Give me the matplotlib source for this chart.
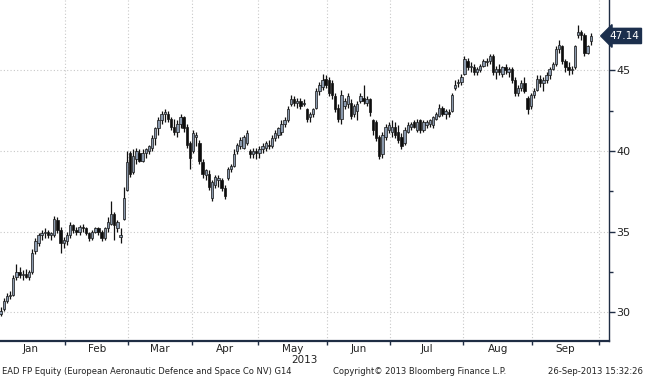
import numpy as np
import matplotlib
matplotlib.use("Agg")
import matplotlib.pyplot as plt
import matplotlib.transforms as mtransforms

# ---------------------------------------------------------------- data
month_names = ["Jan", "Feb", "Mar", "Apr", "May", "Jun", "Jul", "Aug", "Sep"]
month_days = [22, 20, 20, 21, 22, 20, 23, 22, 21]   # trading-day slots per month

opens = [
    29.8, 29.9, 30.2, 30.7, 31.0, 31.1, 32.2, 32.5, 32.3, 32.4, 32.2, 32.5, 33.8, 34.3, 34.8, 34.9, 35.0, 34.8, 34.8, 35.7, 35.1, 34.3,
    34.4, 34.8, 35.4, 35.1, 35.0, 35.3, 35.2, 34.9, 34.6, 35.0, 35.2, 35.0, 34.6, 35.2, 35.5, 36.1, 35.2, 34.7, 35.8, 37.6,
    39.9, 38.7, 39.5, 39.9, 39.4, 39.9, 40.0, 40.2, 40.8, 41.4, 41.9, 42.3, 42.3, 42.0, 41.5, 41.2, 41.7, 42.1, 41.5, 40.5,
    40.0, 40.9, 40.5, 39.3, 38.5, 38.6, 37.1, 37.9, 38.2, 38.2, 37.7, 38.3, 38.9, 39.1, 40.0, 40.3, 40.2, 40.5, 40.0, 39.8, 40.0,
    39.9, 40.1, 40.2, 40.4, 40.3, 40.8, 41.0, 41.2, 41.7, 41.9, 42.9, 43.2, 43.0, 43.1, 42.9, 42.6, 42.1, 42.3, 42.7, 43.7, 44.0, 44.5,
    44.4, 44.2, 43.4, 42.7, 42.0, 42.8, 42.9, 43.0, 42.3, 42.5, 43.1, 43.3, 43.0, 43.2, 41.9, 41.8, 40.9, 39.8, 40.9, 41.3,
    41.2, 41.5, 41.2, 40.9, 40.5, 41.2, 41.5, 41.8, 41.3, 41.9, 41.3, 41.6, 41.7, 41.6, 42.0, 42.2, 42.7, 42.3, 42.4, 42.5, 43.9, 44.2, 44.3,
    44.8, 45.6, 45.2, 45.2, 44.9, 45.0, 45.3, 45.5, 45.6, 45.9, 44.9, 45.1, 44.8, 45.2, 44.9, 45.1, 44.4, 43.6, 43.9, 44.2, 43.3, 42.8,
    43.5, 43.8, 44.5, 44.2, 44.4, 44.7, 45.1, 45.4, 46.3, 46.5, 45.6, 45.2, 45.0, 45.2, 47.2, 47.4, 47.2, 46.1, 46.8,
]
highs = [
    30.1, 30.3, 30.9, 31.2, 31.3, 32.3, 33.0, 32.8, 32.6, 32.7, 32.6, 33.9, 34.6, 34.9, 35.1, 35.2, 35.1, 35.0, 36.0, 35.9, 35.3, 34.7,
    35.0, 35.6, 35.5, 35.3, 35.4, 35.5, 35.3, 35.0, 35.1, 35.3, 35.3, 35.1, 35.3, 35.9, 36.9, 36.2, 35.7, 35.2, 37.8, 40.0,
    40.0, 40.1, 40.2, 40.1, 40.1, 40.2, 40.4, 41.0, 41.5, 42.1, 42.5, 42.6, 42.5, 42.1, 42.0, 41.9, 42.3, 42.2, 41.7, 40.6,
    41.3, 41.2, 40.7, 39.5, 38.9, 38.8, 38.2, 38.5, 38.5, 38.3, 37.9, 39.0, 39.2, 40.1, 40.5, 40.9, 41.0, 41.3, 40.1, 40.2, 40.2,
    40.3, 40.5, 40.6, 40.7, 41.0, 41.3, 41.5, 41.9, 42.1, 42.8, 43.5, 43.4, 43.3, 43.3, 43.2, 42.7, 42.4, 42.7, 43.9, 44.3, 44.8, 44.7,
    44.6, 44.4, 43.6, 42.9, 43.8, 43.3, 43.6, 43.2, 42.9, 43.1, 43.6, 44.1, 43.4, 43.3, 42.0, 41.9, 41.0, 41.2, 41.7, 41.8,
    41.9, 41.8, 41.6, 41.1, 41.5, 41.8, 41.8, 41.9, 42.0, 42.0, 41.9, 41.9, 42.0, 42.2, 42.4, 42.9, 42.8, 42.6, 42.6, 43.6, 44.4, 44.5, 44.8,
    45.9, 45.8, 45.5, 45.4, 45.2, 45.4, 45.7, 45.8, 46.0, 46.0, 45.3, 45.4, 45.3, 45.4, 45.2, 45.2, 44.6, 44.1, 44.4, 44.6, 43.4, 43.6,
    43.9, 44.7, 44.7, 44.6, 44.9, 45.2, 45.5, 46.5, 46.9, 46.6, 45.7, 45.5, 45.3, 46.6, 47.8, 47.5, 47.3, 46.6, 47.3,
]
lows = [
    29.6, 29.8, 30.1, 30.6, 30.8, 31.0, 32.0, 32.1, 32.0, 32.1, 32.0, 32.4, 33.6, 34.1, 34.5, 34.6, 34.6, 34.5, 34.7, 34.9, 33.7, 34.0,
    34.2, 34.6, 34.9, 34.8, 34.8, 35.0, 34.8, 34.4, 34.5, 34.9, 34.8, 34.4, 34.5, 35.0, 35.4, 34.5, 35.0, 34.3, 35.7, 37.5,
    38.4, 38.6, 39.2, 39.3, 39.3, 39.6, 39.8, 40.0, 40.4, 41.0, 41.7, 41.8, 41.8, 41.3, 41.0, 40.9, 41.4, 41.2, 40.2, 38.9,
    39.9, 40.3, 39.2, 38.3, 38.2, 37.6, 36.9, 37.7, 37.8, 37.5, 37.0, 38.2, 38.7, 39.0, 39.8, 40.1, 40.1, 40.4, 39.6, 39.6, 39.5,
    39.6, 39.9, 40.0, 40.1, 40.2, 40.6, 40.8, 41.0, 41.5, 41.8, 42.8, 42.8, 42.7, 42.6, 42.8, 41.8, 41.8, 42.1, 42.6, 43.5, 43.8, 43.9,
    43.4, 43.2, 42.4, 41.8, 41.7, 42.6, 42.7, 42.0, 42.1, 41.9, 43.0, 42.9, 42.8, 42.2, 41.0, 40.6, 39.5, 39.6, 40.7, 41.1,
    40.9, 40.8, 40.5, 40.1, 40.4, 41.1, 41.3, 41.4, 41.2, 41.1, 41.2, 41.4, 41.5, 41.4, 41.9, 42.1, 42.2, 42.0, 42.1, 42.4, 43.8, 44.0, 44.1,
    44.7, 45.0, 44.9, 44.7, 44.7, 44.9, 45.2, 45.3, 45.4, 44.7, 44.5, 44.7, 44.6, 44.8, 44.6, 44.2, 43.4, 43.4, 43.7, 43.6, 42.3, 42.6,
    43.3, 43.7, 44.0, 43.7, 44.2, 44.5, 45.0, 45.3, 46.1, 45.4, 44.9, 44.7, 44.8, 45.1, 47.0, 46.9, 45.9, 46.0, 46.6,
]
closes = [
    30.0, 30.1, 30.7, 31.0, 31.1, 32.1, 32.5, 32.3, 32.4, 32.2, 32.5, 33.7, 34.4, 34.8, 34.9, 35.0, 34.8, 34.9, 35.8, 35.1, 34.3, 34.5,
    34.8, 35.4, 35.1, 35.0, 35.3, 35.2, 34.9, 34.6, 35.0, 35.2, 35.0, 34.6, 35.2, 35.6, 36.1, 35.4, 35.6, 34.8, 37.1, 39.3,
    38.6, 39.7, 40.0, 39.4, 39.9, 40.1, 40.3, 40.8, 41.4, 41.9, 42.3, 42.4, 42.0, 41.5, 41.2, 41.7, 42.1, 41.4, 40.4, 39.6,
    41.1, 41.0, 39.4, 38.6, 38.8, 37.8, 38.1, 38.4, 38.3, 37.7, 37.2, 38.9, 39.1, 39.8, 40.4, 40.7, 40.9, 41.1, 39.8, 40.0, 39.9,
    40.1, 40.3, 40.5, 40.3, 40.8, 41.1, 41.4, 41.7, 41.9, 42.6, 43.2, 43.0, 43.1, 42.8, 43.0, 42.0, 42.3, 42.6, 43.7, 44.1, 44.4, 44.1,
    43.6, 43.5, 42.6, 42.0, 43.5, 43.1, 43.4, 42.2, 42.8, 42.9, 43.4, 43.1, 43.2, 42.4, 41.3, 40.8, 39.7, 41.0, 41.5, 41.6,
    41.5, 41.0, 40.7, 40.3, 41.3, 41.6, 41.7, 41.5, 41.8, 41.3, 41.8, 41.8, 41.9, 42.1, 42.3, 42.7, 42.3, 42.5, 42.3, 43.5, 44.1, 44.3, 44.6,
    45.7, 45.2, 45.3, 44.9, 45.1, 45.3, 45.6, 45.6, 45.9, 44.9, 45.1, 44.9, 45.2, 45.0, 45.1, 44.4, 43.6, 43.9, 44.2, 43.7, 42.6, 43.5,
    43.7, 44.5, 44.2, 44.4, 44.7, 45.1, 45.4, 46.3, 46.6, 45.6, 45.2, 45.0, 45.1, 46.5, 47.4, 47.2, 46.1, 46.5, 47.14,
]
last_price = "47.14"
footer_left = "EAD FP Equity (European Aeronautic Defence and Space Co NV) G14"
footer_mid = "Copyright\u00a9 2013 Bloomberg Finance L.P."
footer_right = "26-Sep-2013 15:32:26"

# ---------------------------------------------------------------- figure
W, H = 645, 379
fig = plt.figure(figsize=(W / 100, H / 100), dpi=100)
ax = fig.add_axes([0, 38 / H, 609 / W, 341 / H])

o = np.array(opens)
c = np.array(closes)
hi = np.maximum(np.array(highs), np.maximum(o, c))
lo = np.minimum(np.array(lows), np.minimum(o, c))
x = np.arange(len(o))

up = c >= o
body_bot = np.minimum(o, c)
body_h = np.maximum(np.abs(c - o), 0.06)
colors = np.where(up, "#8a99ad", "#0d0d0d")

ax.vlines(x, lo, hi, color="#111111", linewidth=0.9, zorder=2)
ax.bar(x, body_h, bottom=body_bot, width=0.75, color=colors,
       edgecolor="#151515", linewidth=0.5, zorder=3)

# month boundaries and label positions (trading-day index)
bounds = np.cumsum(month_days) - 0.5
starts = np.concatenate([[-0.5], bounds[:-1]])
centers = (starts + bounds) / 2

ax.set_xlim(0.79, 193.8)
ax.set_ylim(28.22, 49.37)

# grid
for b in bounds:
    ax.axvline(b, color="#c8c8c8", linewidth=0.8, linestyle=(0, (1, 2)), zorder=1)
for yv in [30, 35, 40, 45]:
    ax.axhline(yv, color="#c8c8c8", linewidth=0.8, linestyle=(0, (1, 2)), zorder=1)

# x axis: ticks at boundaries, labels in the middle of months
ax.set_xticks(bounds)
ax.set_xticklabels([])
ax.set_xticks(centers, minor=True)
ax.set_xticklabels(month_names, minor=True, fontsize=7.5, color="#222222")
ax.tick_params(axis="x", which="major", direction="out", length=3, width=1, color="#1f2d44")
ax.tick_params(axis="x", which="minor", length=0, pad=2)

# y axis on the right
ax.yaxis.tick_right()
ax.set_yticks([30, 35, 40, 45])
ax.set_yticks([32.5, 37.5, 42.5, 47.5], minor=True)
ax.tick_params(axis="y", which="major", direction="out", length=4, width=1,
               color="#1f2d44", labelsize=8, labelcolor="#222222", pad=1)
ax.tick_params(axis="y", which="minor", direction="out", length=3, width=1, color="#1f2d44")

for side in ["top", "left"]:
    ax.spines[side].set_visible(False)
ax.spines["bottom"].set_color("#1f2d44")
ax.spines["bottom"].set_linewidth(1.6)
ax.spines["right"].set_color("#1f2d44")
ax.spines["right"].set_linewidth(1.0)

# last price tag
trans = mtransforms.blended_transform_factory(ax.transAxes, ax.transData)
ax.text(1.0, c[-1], last_price, transform=trans, ha="left", va="center",
        fontsize=7.5, color="white", clip_on=False,
        bbox=dict(boxstyle="larrow,pad=0.25", fc="#1c2f4d", ec="#1c2f4d"))

# 2013 and footer
fig.text(304.5 / W, 1 - 360 / H, "2013", ha="center", va="center", fontsize=7.5, color="#222222")
fig.text(2 / W, 1 - 372 / H, footer_left, ha="left", va="center", fontsize=6.0, color="#222222")
fig.text(333 / W, 1 - 372 / H, footer_mid, ha="left", va="center", fontsize=6.0, color="#222222")
fig.text(643 / W, 1 - 372 / H, footer_right, ha="right", va="center", fontsize=6.1, color="#222222")

fig.savefig("out.png", dpi=100, facecolor="white")
